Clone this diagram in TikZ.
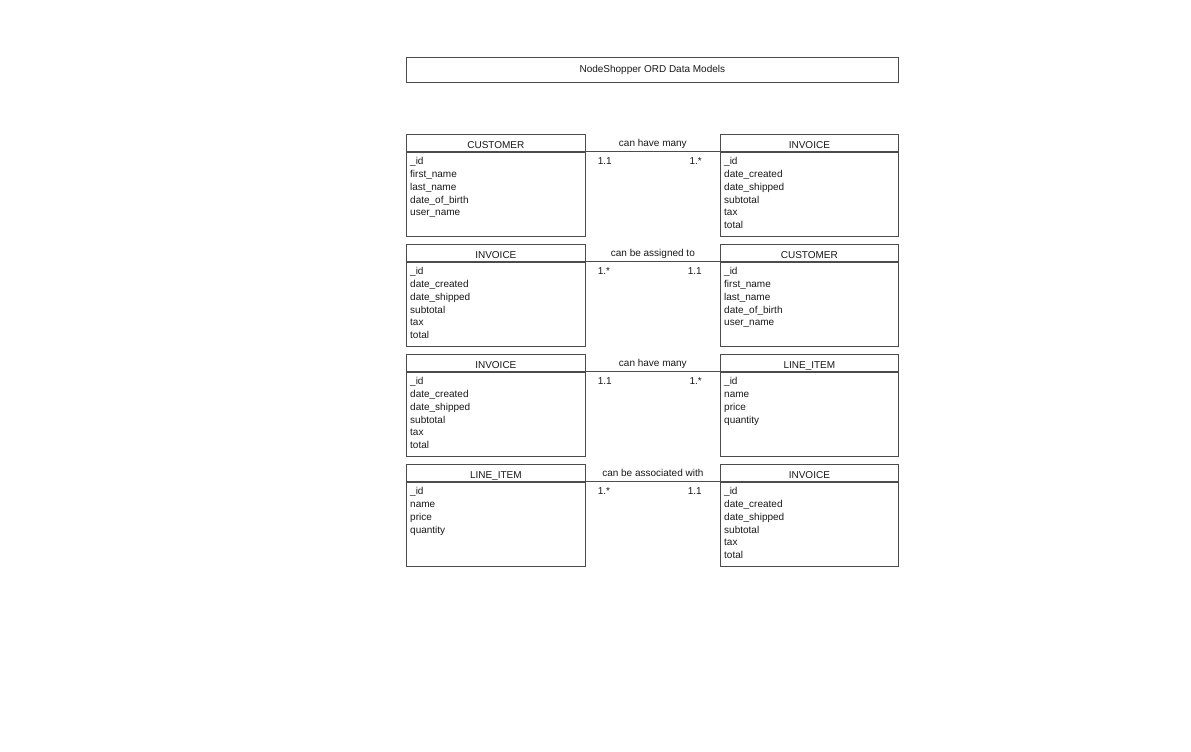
\documentclass[tikz,border=0pt]{standalone}
\usepackage{fontspec}
\setmainfont{Liberation Sans}
\tikzset{
  line/.style={draw=black!70, line width=0.7pt},
  hdrbox/.style={line, inner sep=0pt, minimum width=#1, minimum height=17pt},
  bodybox/.style={line, inner sep=0pt, minimum width=#1, minimum height=84.5pt},
  txt/.style={inner sep=0pt, font=\fontsize{10}{12.75}\selectfont, text=black!90},
  attrs/.style={txt, align=left},
  conn/.style={line},
}
\newcommand\entity[6]{%
  \node[hdrbox=#6, anchor=north west] (#1h) at (#2,#3) {};
  \node[bodybox=#6, anchor=north west] (#1b) at (#1h.south west) {};
  \node[txt, anchor=base] (#1t) at ([yshift=3.5pt]#1h.south) {#4};
  \node[attrs, anchor=north west] (#1a) at ([xshift=4pt,yshift=-5.7pt]#1b.north west) {#5};
}
\newcommand\relation[5]{%
  \draw[conn] (#1h.south east) -- coordinate (#1#2m) (#2h.south west);
  \node[txt, anchor=base] (#1#2l) at ([yshift=5pt]#1#2m) {#3};
  \node[txt, anchor=base west] (#1#2p) at ([xshift=12pt,yshift=-13pt]#1h.south east) {#4};
  \node[txt, anchor=base east] (#1#2q) at ([xshift=-18pt,yshift=-13pt]#2h.south west) {#5};
}
\begin{document}
\begin{tikzpicture}[x=1pt,y=-1pt]
\useasboundingbox[fill=white] (0,0) rectangle (1191,752);
\node[line, txt, minimum width=492pt, minimum height=25pt, anchor=north west] (title) at (406,57) {NodeShopper ORD Data Models};

\entity{ca}{406}{134}{CUSTOMER}{\_id\\first\_name\\last\_name\\date\_of\_birth\\user\_name}{179pt}
\entity{ia}{720}{134}{INVOICE}{\_id\\date\_created\\date\_shipped\\subtotal\\tax\\total}{178pt}
\relation{ca}{ia}{can have many}{1.1}{1.*}

\entity{ib}{406}{244}{INVOICE}{\_id\\date\_created\\date\_shipped\\subtotal\\tax\\total}{179pt}
\entity{cb}{720}{244}{CUSTOMER}{\_id\\first\_name\\last\_name\\date\_of\_birth\\user\_name}{178pt}
\relation{ib}{cb}{can be assigned to}{1.*}{1.1}

\entity{ic}{406}{354}{INVOICE}{\_id\\date\_created\\date\_shipped\\subtotal\\tax\\total}{179pt}
\entity{lc}{720}{354}{LINE\_ITEM}{\_id\\name\\price\\quantity}{178pt}
\relation{ic}{lc}{can have many}{1.1}{1.*}

\entity{ld}{406}{464}{LINE\_ITEM}{\_id\\name\\price\\quantity}{179pt}
\entity{id}{720}{464}{INVOICE}{\_id\\date\_created\\date\_shipped\\subtotal\\tax\\total}{178pt}
\relation{ld}{id}{can be associated with}{1.*}{1.1}
\end{tikzpicture}
\end{document}
